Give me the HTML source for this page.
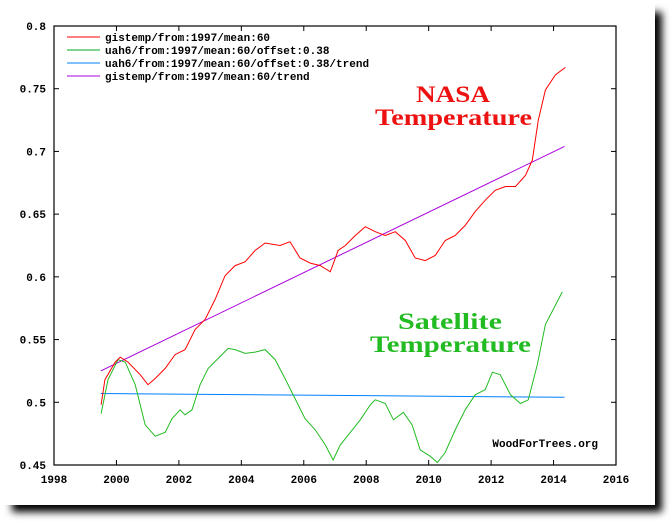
<!DOCTYPE html>
<html><head><meta charset="utf-8"><style>
html,body{margin:0;padding:0;background:#fff;width:671px;height:524px;overflow:hidden}
svg{display:block}
text{font-family:"Liberation Mono",monospace;font-weight:bold}
</style></head><body>
<svg id="chart" width="671" height="524" viewBox="0 0 671 524">
<defs><filter id="sh" x="-5%" y="-5%" width="115%" height="115%"><feGaussianBlur stdDeviation="4"/></filter></defs>
<rect x="12" y="12" width="650" height="500" fill="#000" filter="url(#sh)"/>
<rect x="0" y="0" width="655" height="505" fill="#fff"/>
<g id="axes"></g>
<g id="series"></g>
<g id="legend"></g>
<text x="416" y="102" textLength="74" lengthAdjust="spacingAndGlyphs" fill="#ee1111" style="font-family:'Liberation Serif',serif;font-size:23px">NASA</text>
<text x="375" y="125" textLength="157" lengthAdjust="spacingAndGlyphs" fill="#ee1111" style="font-family:'Liberation Serif',serif;font-size:23px">Temperature</text>
<text x="398" y="329" textLength="104" lengthAdjust="spacingAndGlyphs" fill="#22bb22" style="font-family:'Liberation Serif',serif;font-size:23px">Satellite</text>
<text x="370" y="352" textLength="161" lengthAdjust="spacingAndGlyphs" fill="#22bb22" style="font-family:'Liberation Serif',serif;font-size:23px">Temperature</text>
<text x="598" y="447" text-anchor="end" font-size="11" fill="#000">WoodForTrees.org</text>
</svg>
<script>
const xTicks=[1998,2000,2002,2004,2006,2008,2010,2012,2014,2016];
const yTicks=[0.45,0.5,0.55,0.6,0.65,0.7,0.75,0.8];
const yTickLabels=["0.45","0.5","0.55","0.6","0.65","0.7","0.75","0.8"];
const gisYears=[1999.51,1999.63,1999.96,2000.12,2000.37,2000.76,2001.01,2001.24,2001.56,2001.88,2002.2,2002.52,2002.84,2003.16,2003.48,2003.8,2004.12,2004.44,2004.76,2005.24,2005.56,2005.88,2006.21,2006.53,2006.85,2007.1,2007.33,2007.65,2007.97,2008.29,2008.61,2008.93,2009.25,2009.57,2009.89,2010.21,2010.53,2010.85,2011.17,2011.49,2011.81,2012.13,2012.46,2012.78,2013.1,2013.32,2013.51,2013.74,2014.06,2014.38];
const gisValues=[0.498,0.518,0.532,0.536,0.532,0.522,0.514,0.519,0.527,0.538,0.542,0.558,0.566,0.582,0.601,0.609,0.612,0.621,0.627,0.625,0.628,0.615,0.611,0.609,0.604,0.621,0.625,0.633,0.640,0.636,0.633,0.636,0.629,0.615,0.613,0.617,0.629,0.633,0.641,0.652,0.661,0.669,0.672,0.672,0.681,0.693,0.725,0.749,0.761,0.767];
const uahYears=[1999.51,1999.73,2000.05,2000.28,2000.6,2000.92,2001.24,2001.56,2001.78,2002.04,2002.2,2002.42,2002.68,2002.94,2003.26,2003.58,2003.8,2004.12,2004.44,2004.76,2005.08,2005.4,2005.72,2006.04,2006.37,2006.69,2006.94,2007.17,2007.49,2007.81,2008.13,2008.29,2008.61,2008.87,2009.19,2009.47,2009.73,2010.05,2010.28,2010.53,2010.85,2011.17,2011.49,2011.81,2012.04,2012.29,2012.62,2012.94,2013.19,2013.48,2013.74,2013.99,2014.28];
const uahValues=[0.491,0.518,0.534,0.532,0.514,0.482,0.473,0.476,0.487,0.494,0.490,0.494,0.514,0.527,0.535,0.543,0.542,0.539,0.540,0.542,0.534,0.519,0.503,0.487,0.478,0.466,0.454,0.466,0.476,0.486,0.498,0.502,0.499,0.486,0.492,0.482,0.462,0.457,0.452,0.460,0.478,0.494,0.506,0.510,0.524,0.522,0.506,0.499,0.502,0.530,0.562,0.574,0.588];
const uahTrendYears=[1999.5,2014.35];
const uahTrendValues=[0.507,0.504];
const gisTrendYears=[1999.5,2014.35];
const gisTrendValues=[0.525,0.704];
const legendLabels=["gistemp/from:1997/mean:60","uah6/from:1997/mean:60/offset:0.38","uah6/from:1997/mean:60/offset:0.38/trend","gistemp/from:1997/mean:60/trend"];
const legendColors=["#ff0000","#00aa22","#0080ff","#aa00dd"];

const X0=54,X1=616,Y0=26,Y1=465;
const xs=v=>X0+(v-1998)/(2016-1998)*(X1-X0);
const ys=v=>Y1-(v-0.45)/(0.8-0.45)*(Y1-Y0);
const NS="http://www.w3.org/2000/svg";
function mk(tag,attrs,parent){const e=document.createElementNS(NS,tag);for(const k in attrs)e.setAttribute(k,attrs[k]);parent.appendChild(e);return e;}
const axes=document.getElementById('axes');
const frame=mk('rect',{x:X0,y:Y0,width:X1-X0,height:Y1-Y0,fill:'none',stroke:'#000','stroke-width':1.2},axes);


xTicks.forEach(t=>{const x=xs(t);
 mk('line',{x1:x,x2:x,y1:Y1,y2:Y1-5,stroke:'#000'},axes);
 mk('line',{x1:x,x2:x,y1:Y0,y2:Y0+5,stroke:'#000'},axes);
 const tx=mk('text',{x:x,y:Y1+18,'text-anchor':'middle','font-size':11},axes);tx.textContent=t;
 
 
});
yTicks.forEach((t,i)=>{const y=ys(t);
 mk('line',{x1:X0,x2:X0+5,y1:y,y2:y,stroke:'#000'},axes);
 mk('line',{x1:X1,x2:X1-5,y1:y,y2:y,stroke:'#000'},axes);
 const tx=mk('text',{x:X0-8,y:y+4,'text-anchor':'end','font-size':11},axes);tx.textContent=yTickLabels[i];
 
 
});
const ser=document.getElementById('series');
function line(xv,yv,color,name){const p=mk('polyline',{points:xv.map((x,i)=>xs(x).toFixed(1)+','+ys(yv[i]).toFixed(1)).join(' '),fill:'none',stroke:color,'stroke-width':1},ser);
 
 }
line(gisTrendYears,gisTrendValues,legendColors[3],'gistemp-trend-line');
line(uahTrendYears,uahTrendValues,legendColors[2],'uah-trend-line');
line(uahYears,uahValues,'#22bb22','uah-series-line');
line(gisYears,gisValues,legendColors[0],'gistemp-series-line');
const lg=document.getElementById('legend');
legendLabels.forEach((l,i)=>{const y=37+i*13;
 mk('line',{x1:67,x2:100,y1:y,y2:y,stroke:legendColors[i]},lg);
 const t=mk('text',{x:105,y:y+4,'font-size':11},lg);t.textContent=l;
 
 
});
</script>
</body></html>
